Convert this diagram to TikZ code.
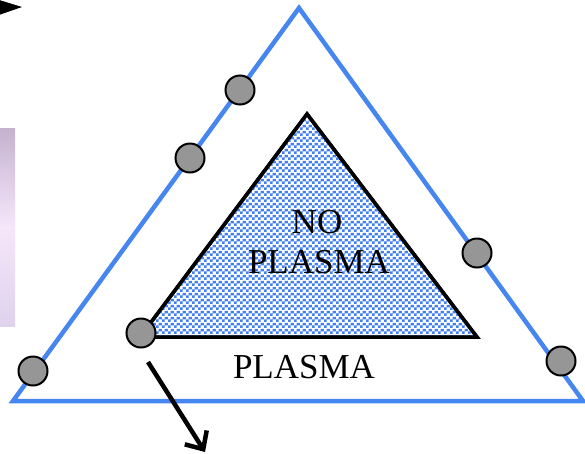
\documentclass[tikz,border=0pt]{standalone}
\usepackage{fontspec}
\setmainfont{Liberation Serif}
\usetikzlibrary{arrows.meta,patterns.meta,shadings}
\definecolor{outerblue}{RGB}{70,134,240}
\definecolor{dotblue}{RGB}{66,128,240}
\definecolor{knob}{RGB}{150,150,150}
\definecolor{lavtop}{RGB}{196,178,206}
\definecolor{lavmid}{RGB}{246,230,250}
\definecolor{lavbot}{RGB}{222,210,236}
\pgfdeclarepattern{
  name=checkblue,
  type=colored,
  bottom left={\pgfpoint{0pt}{0pt}},
  top right={\pgfpoint{6pt}{6pt}},
  tile size={\pgfpoint{6pt}{6pt}},
  code={
    \pgfsetfillcolor{dotblue}
    \pgfpathrectangle{\pgfpoint{0pt}{0pt}}{\pgfpoint{3pt}{3pt}}
    \pgfpathrectangle{\pgfpoint{3pt}{3pt}}{\pgfpoint{3pt}{3pt}}
    \pgfusepath{fill}
  }
}
\tikzset{
  knobnode/.style={circle,draw=black,line width=2pt,fill=knob,minimum size=29pt,inner sep=0pt},
  outerline/.style={draw=outerblue,line width=4.5pt,line join=miter},
  innertri/.style={draw=black,line width=3.5pt,line join=miter,fill=white},
  bigtext/.style={font=\fontsize{35}{40}\selectfont,text=black,inner sep=0pt},
  arrowline/.style={draw=black,line width=4.5pt,-{Straight Barb[length=14pt,width=26pt,line width=4.5pt]}}
}
\begin{document}
\begin{tikzpicture}[x=1pt,y=-1pt]
\useasboundingbox (0,0) rectangle (585,453);
\fill[white] (0,0) rectangle (585,453);
% lavender strip at left
\shade[top color=lavtop,bottom color=lavbot,middle color=lavmid] (0,128) rectangle (15,326);
% top-left arrow head
\fill[black] (-4,-1) -- (22,7) -- (-4,16) -- cycle;
% outer triangle
\coordinate (oA) at (299,8);
\coordinate (oL) at (13,401);
\coordinate (oR) at (583,401);
\path[outerline] (oA) -- (oR) -- (oL) -- cycle;
% inner triangle
\coordinate (iA) at (307,114);
\coordinate (iL) at (140,337);
\coordinate (iR) at (477,337);
\path[innertri] (iA) -- (iR) -- (iL) -- cycle;
\fill[pattern=checkblue] (iA) -- (iR) -- (iL) -- cycle;
\draw[black,line width=3.5pt,line join=miter] (iA) -- (iR) -- (iL) -- cycle;
% texts
\node[bigtext,anchor=base] (no) at (317,233) {NO};
\node[bigtext,anchor=base] (pl1) at (319,273) {PLASMA};
\node[bigtext,anchor=base] (pl2) at (304,378) {PLASMA};
% knobs
\node[knobnode] (k1) at (240,90) {};
\node[knobnode] (k2) at (190,158) {};
\node[knobnode] (k3) at (477,253) {};
\node[knobnode] (k4) at (561,361) {};
\node[knobnode] (k5) at (33,371) {};
\node[knobnode] (k6) at (141,333) {};
% arrow
\coordinate (aS) at (148,362);
\coordinate (aE) at (205,452);
\draw[arrowline] (aS) -- (aE);
\end{tikzpicture}
\end{document}
